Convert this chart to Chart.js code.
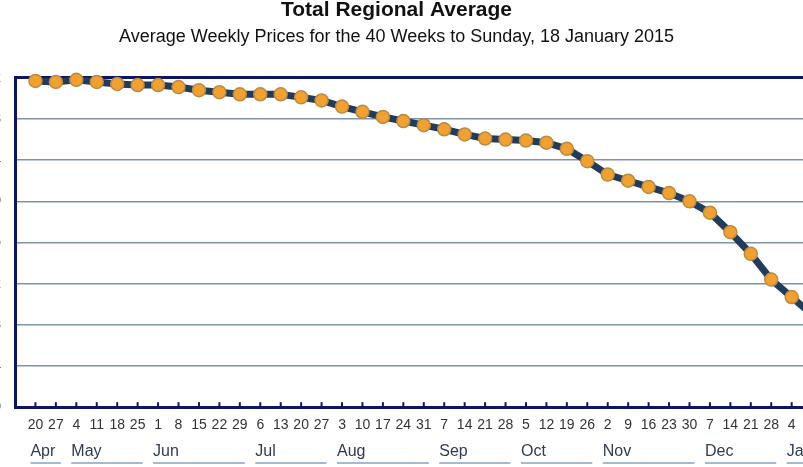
<!DOCTYPE html>
<html>
<head>
<meta charset="utf-8">
<script src="https://cdn.jsdelivr.net/npm/chart.js@4"></script>
<style>
  html, body { margin: 0; padding: 0; background: #fff; }
  #wrap { position: relative; width: 803px; height: 467px; overflow: hidden; }
  #myChart { position: absolute; left: -60px; top: 0; }
</style>
</head>
<body>
<div id="wrap"><canvas id="myChart" width="932" height="467"></canvas></div>
<script>
/** Daten */
var weekDays = [20, 27, 4, 11, 18, 25, 1, 8, 15, 22, 29, 6, 13, 20, 27, 3, 10, 17, 24, 31,
  7, 14, 21, 28, 5, 12, 19, 26, 2, 9, 16, 23, 30, 7, 14, 21, 28, 4, 11, 18];
var months = ['Apr', 'May', 'Jun', 'Jul', 'Aug', 'Sep', 'Oct', 'Nov', 'Dec', 'Jan'];
var monthWeeks = [2, 4, 5, 4, 5, 4, 4, 5, 4, 3];
var prices = [131.7, 131.6, 131.8, 131.6, 131.4, 131.3, 131.3, 131.1, 130.8, 130.6,
  130.4, 130.4, 130.4, 130.1, 129.8, 129.2, 128.7, 128.2, 127.8, 127.4,
  127.0, 126.5, 126.1, 126.0, 125.9, 125.7, 125.1, 123.9, 122.6, 122.0,
  121.4, 120.8, 120.0, 118.9, 117.0, 114.9, 112.4, 110.7, 109.0, 107.4];
var yMin = 100, yMax = 132, yStep = 4;

var navy = '#0b1560';
var gridBlue = '#7d93aa';

/** Kleine Striche an der x-Achse und Monatszeile */
var extras = {
  id: 'extras',
  afterDatasetsDraw: function(chart) {
    var ctx = chart.ctx;
    var x = chart.scales.x;
    var bottom = chart.chartArea.bottom;
    ctx.save();
    ctx.strokeStyle = navy;
    ctx.lineWidth = 2;
    for (var i = 0; i < weekDays.length; i++) {
      var px = x.getPixelForValue(i);
      ctx.beginPath();
      ctx.moveTo(px, bottom - 5);
      ctx.lineTo(px, bottom);
      ctx.stroke();
    }
    var start = 0;
    ctx.font = "16px 'Liberation Sans', Arial, sans-serif";
    ctx.textBaseline = 'middle';
    ctx.textAlign = 'left';
    for (var m = 0; m < months.length; m++) {
      var end = start + monthWeeks[m] - 1;
      var x1 = x.getPixelForValue(start) - 5;
      var x2 = x.getPixelForValue(end) + 5;
      ctx.fillStyle = '#2f3b4f';
      ctx.fillText(months[m], x1, 452);
      ctx.strokeStyle = '#8aa2bb';
      ctx.lineWidth = 1.5;
      ctx.beginPath();
      ctx.moveTo(x1, 463);
      ctx.lineTo(x2, 463);
      ctx.stroke();
      start = end + 1;
    }
    ctx.restore();
  }
};

var ctx = document.getElementById('myChart').getContext('2d');
var myChart = new Chart(ctx, {
  type: 'line',
  data: {
    labels: weekDays,
    datasets: [{
      data: prices.map(function(v, i) { return {x: i, y: v}; }),
      borderColor: '#213b5c',
      borderWidth: 7,
      pointBackgroundColor: '#f2a12e',
      pointBorderColor: '#b88a45',
      pointBorderWidth: 1.5,
      pointRadius: 6.5,
      tension: 0,
      clip: false
    }]
  },
  options: {
    responsive: false,
    animation: false,
    layout: { padding: { top: 0, right: 19, bottom: 31, left: 0 } },
    plugins: {
      legend: { display: false },
      tooltip: { enabled: false },
      title: {
        display: true,
        text: 'Total Regional Average',
        color: '#111',
        font: { family: "'Liberation Sans', Arial, sans-serif", size: 21, weight: 'bold' },
        padding: { top: -2, bottom: 3 }
      },
      subtitle: {
        display: true,
        text: 'Average Weekly Prices for the 40 Weeks to Sunday, 18 January 2015',
        color: '#111',
        font: { family: "'Liberation Sans', Arial, sans-serif", size: 18 },
        padding: { top: 0, bottom: 30 }
      }
    },
    scales: {
      x: {
        type: 'linear',
        min: -1,
        max: 40,
        grid: { display: false },
        border: { display: true, color: navy, width: 3 },
        afterBuildTicks: function(scale) {
          scale.ticks = weekDays.map(function(d, i) { return {value: i}; });
        },
        ticks: {
          autoSkip: false,
          maxRotation: 0,
          padding: 2,
          color: '#333',
          font: { family: "'Liberation Sans', Arial, sans-serif", size: 14 },
          callback: function(v) { return weekDays[v]; }
        }
      },
      y: {
        min: yMin,
        max: yMax,
        afterFit: function(scale) { scale.width = 75; },
        grid: {
          drawTicks: false,
          color: function(c) { return c.tick && c.tick.value === yMax ? navy : gridBlue; },
          lineWidth: function(c) { return c.tick && c.tick.value === yMax ? 3 : 1.5; }
        },
        border: { display: true, color: navy, width: 3 },
        ticks: {
          stepSize: yStep,
          padding: 14,
          color: '#333',
          font: { family: "'Liberation Sans', Arial, sans-serif", size: 14 }
        }
      }
    }
  },
  plugins: [extras]
});
</script>
</body>
</html>
